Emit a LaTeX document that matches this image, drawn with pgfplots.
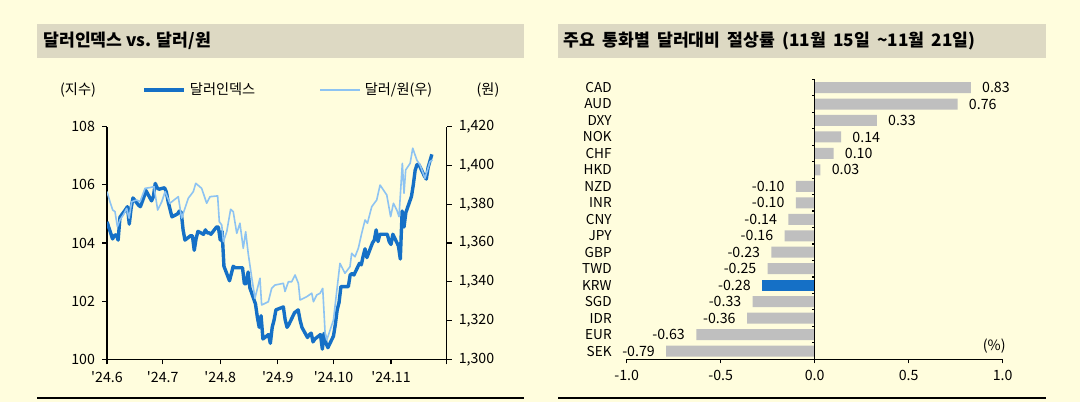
\documentclass[border=0pt]{standalone}
\usepackage{fontspec}
\setmainfont{Noto Sans CJK KR}
\usepackage{pgfplots}
\usepackage{pgfplotstable}
\pgfplotsset{compat=1.18}
\definecolor{bgc}{RGB}{255,253,221}
\definecolor{titlebg}{RGB}{221,217,195}
\definecolor{dxyc}{RGB}{21,112,198}
\definecolor{krwc}{RGB}{141,195,242}
\definecolor{barg}{RGB}{191,191,191}
\newcommand{\tfont}{\fontsize{7.1}{8.5}\selectfont}
\newcommand{\hfont}{\fontsize{8.6}{10}\selectfont\bfseries}

\pgfplotstableread{
day val
0 104.73
3 104.14
4 104.26
5 104.28
6 104.10
7 104.89
10 105.15
11 105.25
12 104.65
13 105.20
14 105.55
17 105.30
18 105.25
20 105.60
21 105.80
24 105.45
25 105.60
26 106.05
27 105.90
28 105.85
31 105.90
32 105.75
33 105.40
35 104.90
38 105.00
39 105.10
40 105.05
41 104.45
42 104.10
45 104.25
46 104.25
47 103.75
48 104.15
49 104.40
52 104.30
53 104.45
54 104.35
55 104.35
56 104.30
59 104.55
60 104.55
61 104.10
62 104.40
63 103.20
66 102.70
67 102.95
68 103.20
69 103.15
70 103.15
73 103.15
74 102.60
75 102.60
76 103.00
77 102.45
80 101.90
81 101.45
82 101.10
83 101.50
84 100.70
87 100.85
88 100.55
89 101.10
90 101.35
91 101.70
95 101.80
96 101.35
97 101.10
98 101.20
101 101.60
102 101.65
103 101.70
104 101.35
105 101.10
108 100.75
109 100.85
110 100.90
111 100.60
112 100.70
115 100.85
116 100.35
117 100.90
118 100.55
119 100.40
122 100.80
123 101.20
124 101.70
125 101.95
126 102.50
129 102.50
130 102.50
131 102.90
132 102.95
133 102.90
136 103.30
137 103.25
138 103.55
139 103.80
140 103.50
143 104.00
144 104.10
145 104.45
146 104.05
147 104.30
150 104.30
151 104.30
152 104.05
153 103.95
154 104.30
157 103.90
158 103.45
159 105.10
160 104.55
161 105.05
164 105.60
165 106.00
166 106.50
167 106.70
168 106.70
171 106.30
172 106.20
173 106.60
175 107.05
}\dxy

\pgfplotstableread{
day val
0 1386.5
1.6 1381.3
3.1 1377.0
4.3 1376.2
5.6 1368.4
7.0 1371.9
8.8 1374.5
10.6 1377.9
11.9 1372.8
13.3 1381.3
16.0 1382.2
17.8 1381.3
20.5 1388.2
23.2 1388.6
25.3 1389.1
27.3 1377.0
29.5 1381.3
31.3 1386.5
33.9 1380.5
38.4 1383.9
40.2 1372.8
43.8 1383.1
46.5 1386.5
47.8 1390.8
51.0 1388.2
53.7 1380.5
55.5 1383.9
59.6 1384.3
60.5 1371.0
61.8 1369.3
62.7 1360.7
64.5 1365.8
66.6 1377.4
68.0 1376.2
69.9 1365.0
71.6 1370.2
73.4 1357.3
74.7 1365.8
76.1 1354.4
77.9 1342.6
79.7 1331.5
82.4 1341.8
83.3 1328.0
86.9 1329.7
88.7 1336.6
90.5 1338.3
95.0 1339.2
95.9 1335.0
97.7 1340.0
99.5 1340.0
101.3 1343.5
103.1 1339.2
104.0 1330.6
107.6 1332.3
110.3 1334.1
111.2 1329.7
113.0 1333.2
114.8 1334.1
116.2 1336.6
116.6 1329.7
117.5 1313.4
118.4 1310.0
122.0 1320.3
122.8 1327.1
125.5 1349.5
128.2 1344.4
130.9 1347.8
131.8 1354.7
133.6 1352.9
135.4 1357.3
137.2 1365.0
139.0 1371.9
140.3 1370.2
142.6 1378.7
145.3 1382.2
147.1 1389.9
150.7 1384.8
152.8 1373.6
154.3 1380.5
156.1 1377.0
157.3 1373.6
159.1 1401.1
160.0 1385.7
160.9 1397.7
163.3 1401.1
164.7 1408.9
166.9 1402.8
168.6 1400.3
171.3 1393.4
174.0 1402.0
175.3 1402.8
}\krw

\begin{document}
\begin{tikzpicture}
\useasboundingbox (0,0) rectangle (540pt,201pt);
\fill[bgc] (0,0) rectangle (540pt,201pt);
% title bars
\fill[titlebg] (18.5pt,171.75pt) rectangle (262pt,189pt);
\node[anchor=west,font=\hfont,inner sep=0pt] at (21.5pt,180.4pt) {달러인덱스 vs. 달러/원};
\fill[titlebg] (279pt,171.75pt) rectangle (523pt,189pt);
\node[anchor=west,font=\hfont,inner sep=0pt] at (281.7pt,180.4pt) {\spaceskip=3.6pt 주요 통화별 달러대비 절상률 (11월 15일 \textasciitilde 11월 21일)};
\draw[line width=0.7pt] (18.5pt,2pt) -- (262pt,2pt);
\draw[line width=0.7pt] (279pt,2pt) -- (523pt,2pt);
\node[font=\tfont] at (39pt,156pt) {(지수)};
\node[font=\tfont] at (244pt,156pt) {(원)};
\node[font=\tfont,anchor=east,inner sep=0pt] at (503pt,28pt) {(\%)};

% left chart: dollar index
\begin{axis}[
  at={(53.5pt,21.35pt)}, anchor=south west, scale only axis,
  width=169.85pt, height=116.3pt,
  xmin=0, xmax=183, ymin=100, ymax=108,
  axis x line*=bottom, axis y line*=left,
  xtick={0,30,61,92,122,153,183},
  xticklabels={\textquotesingle24.6,\textquotesingle24.7,\textquotesingle24.8,\textquotesingle24.9,\textquotesingle24.10,\textquotesingle24.11,{}},
  ytick={100,102,...,108},
  tick align=outside, major tick length=2.5pt,
  tick style={black, line width=0.6pt},
  axis line style={line width=0.65pt},
  ticklabel style={font=\tfont},
  /pgf/number format/assume math mode=true,
  legend style={at={(0.537,1.158)}, anchor=center, draw=none, fill=none, font=\tfont,
    legend columns=2, /tikz/every even column/.append style={column sep=30pt}, inner sep=0pt},
  legend image code/.code={\draw[#1] (0pt,0pt) -- (20pt,0pt);},
]
\addplot[dxyc, line width=1.7pt, line join=round] table[x=day,y=val] {\dxy};
\addlegendentry{달러인덱스}
\addlegendimage{krwc, line width=0.8pt}
\addlegendentry{달러/원(우)}
\end{axis}

% left chart: KRW on right axis
\begin{axis}[
  at={(53.5pt,21.35pt)}, anchor=south west, scale only axis,
  width=169.85pt, height=116.3pt,
  xmin=0, xmax=183, ymin=1300, ymax=1420,
  axis x line=none, axis y line*=right,
  ytick={1300,1320,...,1420},
  tick align=outside, major tick length=2.5pt,
  tick style={black, line width=0.6pt},
  axis line style={line width=0.65pt},
  ticklabel style={font=\tfont},
  /pgf/number format/assume math mode=true,
  yticklabel style={/pgf/number format/1000 sep={,}},
]
\addplot[krwc, line width=0.8pt, line join=round] table[x=day,y=val] {\krw};
\end{axis}

% right chart
\begin{axis}[
  at={(313.35pt,21.35pt)}, anchor=south west, scale only axis,
  width=188pt, height=140pt,
  xbar, bar width=5.5pt,
  xmin=-1, xmax=1, ymin=-0.5, ymax=16.5, y dir=reverse,
  axis x line*=bottom, axis y line*=left,
  y axis line style={draw=none},
  ytick={0,...,16},
  yticklabels={CAD,AUD,DXY,NOK,CHF,HKD,NZD,INR,CNY,JPY,GBP,TWD,KRW,SGD,IDR,EUR,SEK},
  ytick style={draw=none},
  yticklabel style={font=\fontsize{6.8}{8}\selectfont, xshift=-2pt},
  xtick={-1,-0.5,0,0.5,1},
  tick align=outside, major tick length=2pt,
  xtick style={black, line width=0.6pt},
  axis line style={line width=0.65pt},
  xticklabel style={font=\tfont, /pgf/number format/.cd, fixed, fixed zerofill, precision=1, assume math mode=true},
  point meta=x,
  nodes near coords={\pgfmathprintnumber[fixed,fixed zerofill,precision=2,assume math mode=true]{\pgfplotspointmeta}},
  nodes near coords align=horizontal,
  every node near coord/.append style={font=\tfont, inner xsep=5.5pt, black},
  clip=false,
]
\addplot[fill=barg, draw=none, bar shift=0pt] coordinates {
 (0.83,0) (0.76,1) (0.33,2) (0.14,3) (0.10,4) (0.03,5) (-0.10,6) (-0.10,7)
 (-0.14,8) (-0.16,9) (-0.23,10) (-0.25,11) (-0.33,13) (-0.36,14) (-0.63,15) (-0.79,16)};
\addplot[fill=dxyc, draw=none, bar shift=0pt] coordinates {(-0.28,12)};
\draw[line width=0.65pt] (axis cs:0,-0.5) -- (axis cs:0,16.5);
\pgfplotsinvokeforeach{-0.5,0.5,1.5,2.5,3.5,4.5,5.5,6.5,7.5,8.5,9.5,10.5,11.5,12.5,13.5,14.5,15.5}{
  \draw[line width=0.6pt] (axis cs:0,#1) -- ++(-1.5pt,0pt);
}
\end{axis}
\end{tikzpicture}
\end{document}
